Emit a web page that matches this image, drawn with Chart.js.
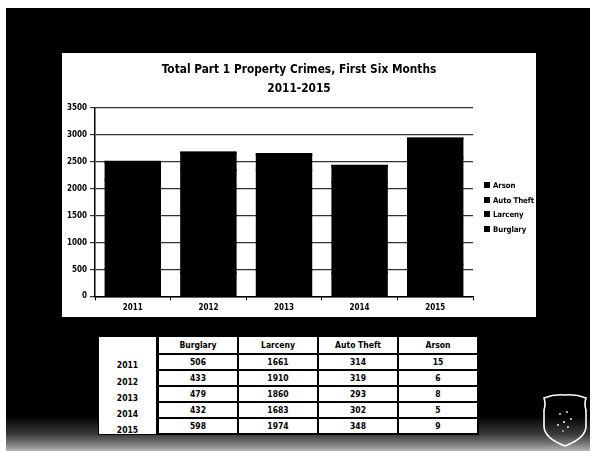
<!DOCTYPE html>
<html>
<head>
<meta charset="utf-8">
<script src="https://cdn.jsdelivr.net/npm/chart.js@4.4.1/dist/chart.umd.min.js"></script>
<style>
  html, body { margin: 0; padding: 0; background: #fff; }
  body { width: 592px; height: 451px; position: relative; overflow: hidden; font-family: "Liberation Sans Narrow", "DejaVu Sans Condensed", "Liberation Sans", sans-serif; }
  #page {
    position: absolute; left: 6px; top: 8px; width: 584px; height: 443px;
    background: linear-gradient(to bottom, #000 0, #000 408px, #3a3a3a 426px, #7a7a7a 436px, #b5b5b5 443px);
  }
  #panel { position: absolute; left: 62px; top: 53px; width: 474px; height: 264px; background: #fff; }
  #legend { position: absolute; left: 0; top: 0; }
  #legend div { position: absolute; white-space: nowrap; font-size: 7.8px; font-weight: bold; line-height: 10px; letter-spacing: -0.1px; }
  #legend span { display: inline-block; width: 6px; height: 6px; background: #000; margin-right: 3px; vertical-align: 0; }
  #yearCol {
    position: absolute; left: 98px; top: 336px; width: 59px; height: 99px;
    background: #fff; border: 1px solid #000; box-sizing: border-box;
  }
  #yearCol div { position: absolute; left: 0; width: 57px; text-align: center; font-size: 8.5px; font-weight: bold; }
  #tbl {
    position: absolute; left: 157px; top: 335px; border-collapse: collapse; background: #fff;
    table-layout: fixed;
  }
  #tbl td, #tbl th {
    border: 2px solid #000; text-align: center; font-size: 8.5px; font-weight: bold;
    padding: 0; height: 14px; width: 78px; color: #000;
  }
  #tbl th { height: 16px; font-weight: bold; }
  #badge { position: absolute; left: 540px; top: 392px; }
</style>
</head>
<body>
<div id="page"></div>
<div id="panel"><canvas id="c" width="474" height="264"></canvas></div>
<div id="legend"></div>
<div id="yearCol"></div>
<table id="tbl"><thead><tr id="head"></tr></thead><tbody id="body"></tbody></table>
<svg id="badge" width="50" height="56" viewBox="0 0 50 56">
  <path d="M4 6 Q14 2 25 3 Q36 2 46 6 Q44 12 46 18 L46 34 Q46 46 25 54 Q4 46 4 34 L4 18 Q6 12 4 6 Z"
        fill="none" stroke="#fff" stroke-width="1.6"/>
  <g fill="#fff">
    <circle cx="20" cy="22" r="0.9"/><circle cx="27" cy="20" r="0.9"/><circle cx="31" cy="27" r="0.9"/>
    <circle cx="24" cy="30" r="1"/><circle cx="18" cy="33" r="0.9"/><circle cx="28" cy="35" r="0.9"/>
    <circle cx="23" cy="39" r="0.8"/>
  </g>
</svg>
<script>
const years = ["2011", "2012", "2013", "2014", "2015"];
const seriesNames = ["Burglary", "Larceny", "Auto Theft", "Arson"];
const burglary = [506, 433, 479, 432, 598];
const larceny = [1661, 1910, 1860, 1683, 1974];
const autoTheft = [314, 319, 293, 302, 348];
const arson = [15, 6, 8, 5, 9];
const yTicks = [0, 500, 1000, 1500, 2000, 2500, 3000, 3500];

const FONT = "'Liberation Sans Narrow', 'DejaVu Sans Condensed', 'Liberation Sans', sans-serif";
const seriesValues = [burglary, larceny, autoTheft, arson];

// table below the chart
const head = document.getElementById("head");
seriesNames.forEach(n => {
  const th = document.createElement("th");
  th.textContent = n;
  head.appendChild(th);
});
const body = document.getElementById("body");
const yearCol = document.getElementById("yearCol");
const rowTops = [23, 40, 56, 72, 88];
years.forEach((y, i) => {
  const tr = document.createElement("tr");
  seriesValues.forEach(vals => {
    const td = document.createElement("td");
    td.textContent = vals[i];
    tr.appendChild(td);
  });
  body.appendChild(tr);
  const d = document.createElement("div");
  d.textContent = y;
  d.style.top = rowTops[i] + "px";
  yearCol.appendChild(d);
});

// legend, reversed like the original (Arson on top)
const legend = document.getElementById("legend");
seriesNames.slice().reverse().forEach((n, i) => {
  const d = document.createElement("div");
  d.innerHTML = "<span></span>" + n;
  d.style.left = "484px";
  d.style.top = (181 + i * 14.7) + "px";
  legend.appendChild(d);
});

Chart.defaults.font.family = FONT;
Chart.defaults.color = "#000";

new Chart(document.getElementById("c"), {
  type: "bar",
  data: {
    labels: years,
    datasets: seriesNames.map((n, i) => ({
      label: n,
      data: seriesValues[i],
      backgroundColor: "#000",
      borderWidth: 0,
      inflateAmount: 1,
      categoryPercentage: 1,
      barPercentage: 0.72
    }))
  },
  options: {
    responsive: false,
    animation: false,
    layout: { padding: { top: 8, right: 0, bottom: 1, left: 0 } },
    plugins: {
      title: {
        display: true,
        text: ["Total Part 1 Property Crimes, First Six Months", "2011-2015"],
        font: { size: 11.8, weight: "bold", lineHeight: 1.55 },
        color: "#000",
        padding: { top: 0, bottom: 10 }
      },
      legend: { display: false },
      tooltip: { enabled: false }
    },
    scales: {
      x: {
        stacked: true,
        grid: { drawOnChartArea: false, color: "#000", tickLength: 4, offset: true },
        border: { color: "#000", width: 1.5 },
        ticks: { font: { size: 8, weight: "bold" }, padding: 3 }
      },
      y: {
        stacked: true,
        min: 0, max: 3500,
        afterBuildTicks: s => { s.ticks = yTicks.map(v => ({ value: v })); },
        afterFit: s => { s.width = 33; },
        grid: { color: "#333", lineWidth: 1.2, tickLength: 5 },
        border: { color: "#000", width: 1.5 },
        ticks: { font: { size: 8, weight: "bold" }, padding: 3, callback: v => String(v) }
      },
      // empty right-hand axis: reserves the space the legend sits in
      yRight: {
        position: "right",
        grid: { display: false },
        border: { display: false },
        ticks: { display: false },
        afterFit: s => { s.width = 63; }
      }
    }
  }
});
</script>
</body>
</html>
